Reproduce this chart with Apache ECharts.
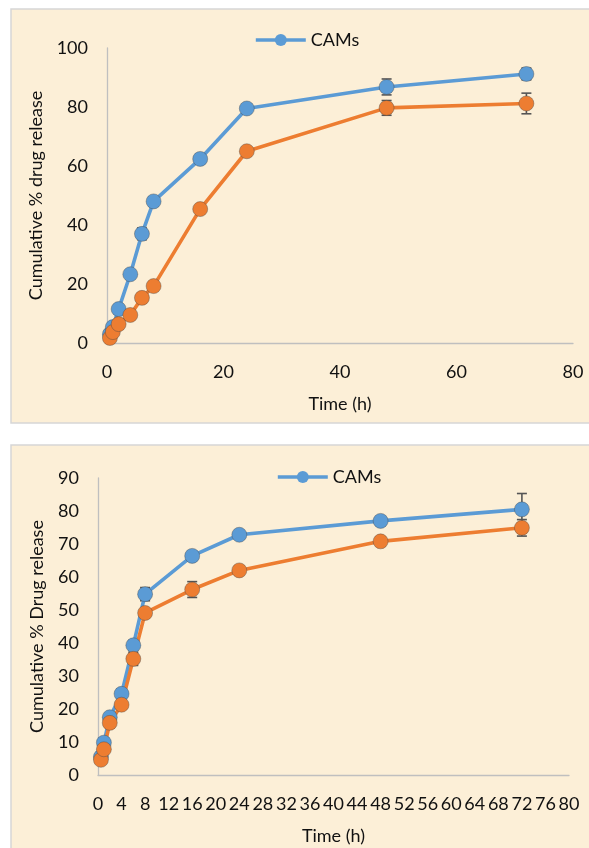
<!DOCTYPE html>
<html>
<head>
<meta charset="utf-8">
<script src="https://cdn.jsdelivr.net/npm/echarts@6/dist/echarts.min.js"></script>
<style>
html,body{margin:0;padding:0;background:#ffffff;}
#c{width:589px;height:848px;}
</style>
</head>
<body>
<div id="c"></div>
<script>
// ---- data ----
var timePoints = [0.5, 1, 2, 4, 6, 8, 16, 24, 48, 72];

var topCAMs = [3, 5.4, 11.5, 23.3, 37, 48, 62.4, 79.5, 86.8, 91.2];
var topCAMsErr = [0.5, 0.5, 1, 1, 2, 1.5, 1.5, 1, 2.7, 2];
var topOther = [1.7, 3.7, 6.4, 9.5, 15.3, 19.3, 45.4, 65, 79.7, 81.2];
var topOtherErr = [0.5, 0.5, 0.5, 0.5, 1, 1, 1, 1, 2.5, 3.5];

var botCAMs = [5.5, 9.8, 17.5, 24.6, 39.3, 54.8, 66.4, 72.8, 77, 80.5];
var botCAMsErr = [1, 1, 1, 1.5, 1.5, 2, 1, 1, 1, 4.8];
var botOther = [4.6, 7.8, 15.8, 21.3, 35.2, 49.1, 56.2, 62, 70.8, 74.9];
var botOtherErr = [1, 1, 1, 1, 2, 1, 2.4, 1, 1, 2.5];

var topYTicks = {min: 0, max: 100, interval: 20};
var topXTicks = {min: 0, max: 80, interval: 20};
var botYTicks = {min: 0, max: 90, interval: 10};
var botXTicks = {min: 0, max: 80, interval: 4};

var legendName = 'CAMs';
var otherName = 'Formulation';

// ---- helpers ----
var BLUE = '#5B9BD5', ORANGE = '#ED7D31';
var FONT = 'Lato';
function pairs(xs, ys) { return xs.map(function (x, i) { return [x, ys[i]]; }); }
function triples(xs, ys, es) { return xs.map(function (x, i) { return [x, ys[i], es[i]]; }); }

function errSeries(idx, xs, ys, es) {
  return {
    type: 'custom', xAxisIndex: idx, yAxisIndex: idx, z: 1, silent: true,
    data: triples(xs, ys, es),
    renderItem: function (params, api) {
      var x = api.value(0), y = api.value(1), e = api.value(2);
      var p1 = api.coord([x, y - e]), p2 = api.coord([x, y + e]);
      var w = 5;
      var st = {stroke: '#555555', lineWidth: 1.6};
      return {type: 'group', children: [
        {type: 'line', shape: {x1: p1[0], y1: p1[1], x2: p2[0], y2: p2[1]}, style: st},
        {type: 'line', shape: {x1: p1[0] - w, y1: p1[1], x2: p1[0] + w, y2: p1[1]}, style: st},
        {type: 'line', shape: {x1: p2[0] - w, y1: p2[1], x2: p2[0] + w, y2: p2[1]}, style: st}
      ]};
    }
  };
}
function lineSeries(idx, name, color, xs, ys) {
  return {
    type: 'line', name: name, xAxisIndex: idx, yAxisIndex: idx, z: 3,
    data: pairs(xs, ys), symbol: 'circle', symbolSize: 15,
    lineStyle: {color: color, width: 3.6},
    itemStyle: {color: color, borderColor: 'rgba(70,70,70,0.5)', borderWidth: 0.8},
    emphasis: {disabled: true}
  };
}
function xAx(idx, t, gap) {
  return {
    type: 'value', gridIndex: idx, min: t.min, max: t.max, interval: t.interval,
    name: 'Time (h)', nameLocation: 'middle', nameGap: gap,
    nameTextStyle: {fontFamily: FONT, fontSize: 18, color: '#111'},
    axisLine: {show: true, lineStyle: {color: '#BFBFBF', width: 1.3}},
    axisTick: {show: false}, splitLine: {show: false},
    axisLabel: {fontFamily: FONT, fontSize: 18, color: '#111', margin: 20, hideOverlap: false}
  };
}
function yAx(idx, t, name, gap) {
  return {
    type: 'value', gridIndex: idx, min: t.min, max: t.max, interval: t.interval,
    name: name, nameLocation: 'middle', nameGap: gap,
    nameTextStyle: {fontFamily: FONT, fontSize: 18, color: '#111'},
    axisLine: {show: true, lineStyle: {color: '#BFBFBF', width: 1.3}},
    axisTick: {show: false}, splitLine: {show: false},
    axisLabel: {fontFamily: FONT, fontSize: 18, color: '#111', margin: 19}
  };
}
function legendAt(left, top) {
  return {left: left, top: top, data: [legendName], itemWidth: 50, itemHeight: 15, itemGap: 8,
    itemStyle: {borderWidth: 0}, lineStyle: {width: 3.6},
    textStyle: {fontFamily: FONT, fontSize: 18, color: '#111'}};
}

var chart = echarts.init(document.getElementById('c'), null, {renderer: 'canvas'});
chart.setOption({
  animation: false,
  backgroundColor: '#ffffff',
  graphic: [
    {type: 'rect', z: -10, shape: {x: 11, y: 9, width: 590, height: 414},
     style: {fill: '#FCEFD7', stroke: '#D6D6D6', lineWidth: 1.5}},
    {type: 'rect', z: -10, shape: {x: 11, y: 445, width: 590, height: 420},
     style: {fill: '#FCEFD7', stroke: '#D6D6D6', lineWidth: 1.5}}
  ],
  grid: [
    {left: 107, top: 48, width: 466, height: 295},
    {left: 98, top: 478, width: 471, height: 297}
  ],
  legend: [legendAt(249, 26), legendAt(271, 463)],
  xAxis: [xAx(0, topXTicks, 52), xAx(1, botXTicks, 52)],
  yAxis: [yAx(0, topYTicks, 'Cumulative % drug release', 62), yAx(1, botYTicks, 'Cumulative % Drug release', 52)],
  series: [
    errSeries(0, timePoints, topCAMs, topCAMsErr),
    errSeries(0, timePoints, topOther, topOtherErr),
    lineSeries(0, legendName, BLUE, timePoints, topCAMs),
    lineSeries(0, otherName, ORANGE, timePoints, topOther),
    errSeries(1, timePoints, botCAMs, botCAMsErr),
    errSeries(1, timePoints, botOther, botOtherErr),
    lineSeries(1, legendName, BLUE, timePoints, botCAMs),
    lineSeries(1, otherName, ORANGE, timePoints, botOther)
  ]
});
</script>
</body>
</html>
